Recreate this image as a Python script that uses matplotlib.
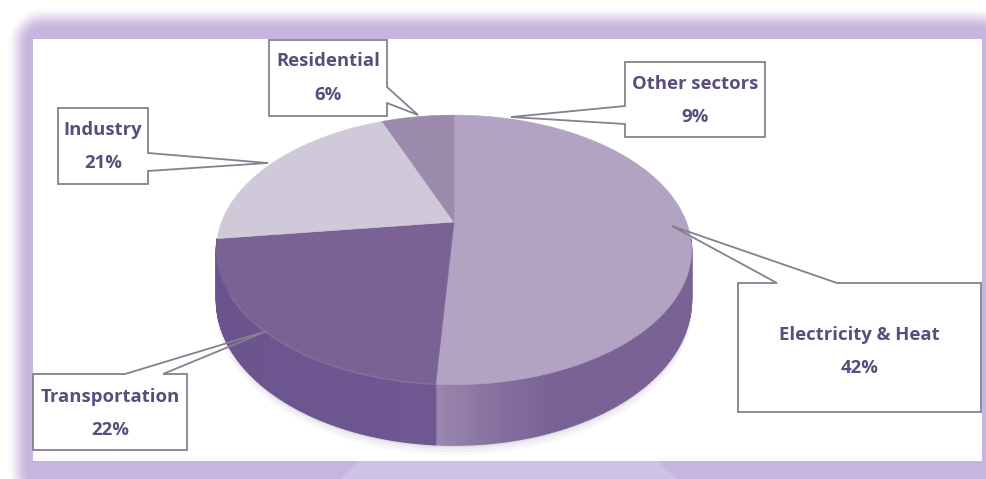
import numpy as np
import matplotlib
matplotlib.use("Agg")
import matplotlib.pyplot as plt
from matplotlib.collections import PolyCollection
from matplotlib.colors import to_rgb
from matplotlib.patches import Polygon

# sectors, clockwise from twelve o'clock
sectors = ["Other sectors", "Electricity & Heat", "Transportation", "Industry", "Residential"]
shares = [9, 42, 22, 21, 6]

TOP_COLORS = ["#b1a3c1", "#b1a3c1", "#7b6295", "#cfc9d9", "#9b8aab"]
WALL_COLORS = ["#7b6296", "#7b6296", "#6a528c", "#a59ab5", "#86749b"]
TEXT_COLOR = "#5b4c7c"
EDGE_COLOR = "#85808f"
FRAME_COLOR = np.array(to_rgb("#c8b6e0"))

# pie projection (pixels)
CX, CY = 454, 222
RX, RY = 232.4, 129
PERSP = 0.207
DEPTH = 48

# box x0, x1, y0, y1, side carrying the tail, tail points clockwise, y of the two text lines
callouts = {
    "Residential": (269, 387, 40, 116, "right", [(387, 87), (418, 115), (387, 103)], (61, 95)),
    "Industry": (58, 148, 108, 184, "right", [(148, 153), (268, 163), (148, 171)], (130, 163)),
    "Other sectors": (625, 765, 62, 137, "left", [(625, 124), (511, 117), (625, 106)], (84, 117)),
    "Electricity & Heat": (738, 981, 283, 412, "top", [(777, 283), (672, 226), (837, 283)], (335, 368)),
    "Transportation": (33, 187, 374, 450, "top", [(125, 374), (267, 331), (163, 374)], (397, 430)),
}


def rim(theta):
    s = 1 / (1 + PERSP * np.sin(theta))
    return CX + RX * np.cos(theta) * s, CY - RY * np.sin(theta) * s, s


def frame_layer(w, h):
    # soft rounded purple frame around the white panel
    yy, xx = np.mgrid[0:h, 0:w] + 0.5
    x0, y0, x1, y1, radius = 18, 18, 1003, 497, 24
    qx = np.maximum(x0 + radius - xx, xx - (x1 - radius))
    qy = np.maximum(y0 + radius - yy, yy - (y1 - radius))
    dist = np.hypot(np.maximum(qx, 0), np.maximum(qy, 0)) - radius
    alpha = np.clip(0.5 - dist / 22, 0, 1)
    alpha = alpha * alpha * (3 - 2 * alpha)
    img = np.ones((h, w, 4))
    img[..., :3] = FRAME_COLOR
    img[..., 3] = alpha
    return img


fig = plt.figure(figsize=(9.87, 4.79), dpi=100)
ax = fig.add_axes([0, 0, 1, 1])
ax.set_xlim(0, 987)
ax.set_ylim(479, 0)
ax.axis("off")

ax.imshow(frame_layer(987, 479), extent=(0, 987, 479, 0), aspect="auto", zorder=0)
ax.add_patch(Polygon([(340, 479), (360, 461), (657, 461), (677, 479)], fc="#cfc3e5", ec="none", zorder=1))
ax.fill([33, 982, 982, 33], [39, 39, 461, 461], color="white", zorder=2, lw=0)

# angles of the slice boundaries
edges = np.cumsum([0] + shares) / sum(shares)
thetas = np.pi / 2 - 2 * np.pi * edges

# soft shadow under the pie
t = np.linspace(0, 2 * np.pi, 240)
rx, ry, rs = rim(t)
for grow, a in [(10, 0.03), (7, 0.04), (4, 0.05), (2, 0.07)]:
    ax.add_patch(Polygon(np.c_[rx, ry + DEPTH * rs + grow], fc="#55466e", alpha=a, ec="none", zorder=3))

# side wall, one thin strip at a time so the shading can vary along the rim
for i in range(len(shares)):
    t = np.linspace(thetas[i], thetas[i + 1], 120)
    x, y, s = rim(t)
    y2 = y + DEPTH * s
    base = np.array(to_rgb(WALL_COLORS[i]))
    if sectors[i] == "Electricity & Heat":
        # wall brightens towards the seam at the front
        light = np.array(to_rgb("#9c89b0"))
        mix = np.clip((t - thetas[i + 1]) / -0.45 + 1, 0, 1) ** 1.5
    elif sectors[i] == "Transportation":
        light = np.array(to_rgb("#6f5792"))
        mix = np.clip((t - thetas[i + 1]) / 1.4, 0, 1)
    else:
        light, mix = base, np.zeros_like(t)
    quads, colors = [], []
    for j in range(len(t) - 1):
        # the back half of the wall is hidden behind the top face
        if sectors[i] == "Industry" or np.sin(t[j]) > -0.12:
            continue
        quads.append([(x[j], y[j]), (x[j + 1], y[j + 1]), (x[j + 1], y2[j + 1]), (x[j], y2[j])])
        colors.append(base + (light - base) * mix[j])
    if quads:
        ax.add_collection(PolyCollection(quads, facecolors=colors, edgecolors=colors, linewidths=1.0, zorder=4))

# top face
for i in range(len(shares)):
    x, y, _ = rim(np.linspace(thetas[i], thetas[i + 1], 120))
    pts = np.vstack([[CX, CY], np.c_[x, y]])
    ax.add_patch(Polygon(pts, fc=TOP_COLORS[i], ec=TOP_COLORS[i], lw=0.4, zorder=5))

# lighter rim along the front of the dark slice, stops short of the left side
i_tr = sectors.index("Transportation")
x, y, _ = rim(np.linspace(thetas[i_tr], thetas[i_tr + 1], 120)[:85])
ax.plot(x, y, color="#8a73a6", lw=1.2, alpha=0.7, zorder=6)

# callouts
for name, share in zip(sectors, shares):
    x0, x1, y0, y1, side, tail, (y_name, y_share) = callouts[name]
    if side == "top":
        outline = [(x0, y0), *tail, (x1, y0), (x1, y1), (x0, y1)]
    elif side == "right":
        outline = [(x0, y0), (x1, y0), *tail, (x1, y1), (x0, y1)]
    else:
        outline = [(x0, y0), (x1, y0), (x1, y1), (x0, y1), *tail]
    # only the box gets a white fill, the tail stays see-through over the pie
    ax.fill([x0, x1, x1, x0], [y0, y0, y1, y1], color="white", lw=0, zorder=7)
    ax.add_patch(Polygon(outline, fc="none", ec=EDGE_COLOR, lw=1.3, joinstyle="miter", zorder=8))
    xc = (x0 + x1) / 2
    ax.text(xc, y_name, name, ha="center", va="center", family="Open Sans", weight="bold",
            fontsize=13.3, color=TEXT_COLOR, zorder=9)
    ax.text(xc, y_share, f"{share}%", ha="center", va="center", family="Open Sans", weight="bold",
            fontsize=13.3, color=TEXT_COLOR, zorder=9)

fig.savefig("out.png", dpi=100)
